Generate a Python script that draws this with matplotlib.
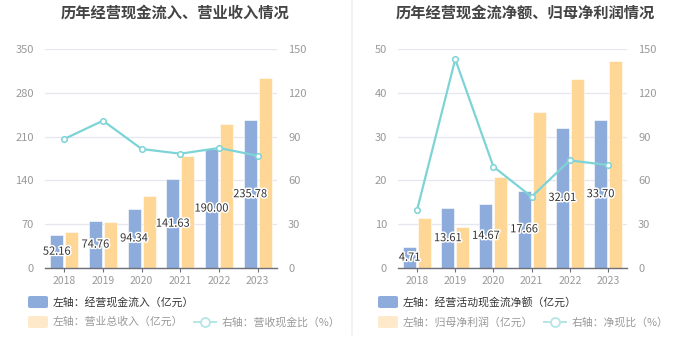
import matplotlib
matplotlib.use("Agg")
import matplotlib.pyplot as plt
import matplotlib.patheffects as pe
from matplotlib.patches import FancyBboxPatch
from matplotlib.lines import Line2D
import numpy as np

plt.rcParams['font.family'] = ['Noto Sans CJK SC', 'DejaVu Sans']

years = ['2018', '2019', '2020', '2021', '2022', '2023']

# Left chart
cash_inflow = [52.16, 74.76, 94.34, 141.63, 190.00, 235.78]
revenue = [58.3, 73.9, 114.5, 178.7, 229.6, 304.0]
cash_rev_ratio = [88.4, 100.9, 81.5, 78.3, 82.2, 76.9]

# Right chart
op_net_cash = [4.71, 13.61, 14.67, 17.66, 32.01, 33.70]
net_profit = [11.5, 9.4, 20.8, 35.7, 43.2, 47.3]
net_cash_ratio = [39.7, 143.0, 69.4, 48.8, 73.7, 70.5]

titles = ['历年经营现金流入、营业收入情况', '历年经营现金流净额、归母净利润情况']
legend_row1 = ['左轴：经营现金流入（亿元）', '左轴：经营活动现金流净额（亿元）']
legend_bar2 = ['左轴：营业总收入（亿元）', '左轴：归母净利润（亿元）']
legend_line = ['右轴：营收现金比（%）', '右轴：净现比（%）']

BLUE = '#8eacdb'
ORANGE = '#fed797'
TEAL = '#7dd4d6'
GRID = '#e4e7f0'
TICK = '#999999'

W, H = 700, 360
fig = plt.figure(figsize=(7, 3.6), dpi=100)

def fx(px):
    return px / W

def fy(py):
    return 1 - py / H

panels = [
    dict(ax=(45, 277), left=cash_inflow, bar2=revenue, line=cash_rev_ratio,
         lmax=350, lstep=70, rmax=150, rstep=30, x0=0),
    dict(ax=(398, 627), left=op_net_cash, bar2=net_profit, line=net_cash_ratio,
         lmax=50, lstep=10, rmax=150, rstep=30, x0=350),
]

x = np.arange(len(years))
bw = 0.34
off = 0.195
for i, p in enumerate(panels):
    x1, x2 = p['ax']
    ax = fig.add_axes([fx(x1), fy(268), fx(x2 - x1), fy(49) - fy(268)])
    ax.set_xlim(-0.5, len(years) - 0.5)
    ax.set_ylim(0, p['lmax'])
    ax.set_yticks(np.arange(0, p['lmax'] + 1, p['lstep']))
    ax.grid(axis='y', color=GRID, linewidth=0.9)
    ax.set_axisbelow(True)
    for s in ['top', 'right', 'left']:
        ax.spines[s].set_visible(False)
    ax.spines['bottom'].set_color('#6e7079')
    ax.spines['bottom'].set_linewidth(1.0)
    ax.bar(x - off, p['left'], width=bw, color=BLUE, edgecolor='white', linewidth=0.4, zorder=2)
    ax.bar(x + off, p['bar2'], width=bw, color=ORANGE, edgecolor='white', linewidth=0.4, zorder=2)
    for xi, v in zip(x, p['left']):
        ax.text(xi - off, v / 2, f'{v:.2f}', ha='center', va='center', fontsize=8,
                color='#333333', zorder=5,
                path_effects=[pe.withStroke(linewidth=2.2, foreground='white')])
    ax.set_xticks(x)
    ax.set_xticklabels(years)
    ax.tick_params(axis='x', colors='#6e7079', labelcolor=TICK, labelsize=7.5, length=3, pad=3)
    ax.tick_params(axis='y', length=0, labelcolor=TICK, labelsize=8, pad=8)

    ax2 = ax.twinx()
    ax2.set_ylim(0, p['rmax'])
    ax2.set_yticks(np.arange(0, p['rmax'] + 1, p['rstep']))
    for s in ['top', 'right', 'left', 'bottom']:
        ax2.spines[s].set_visible(False)
    ax2.tick_params(axis='y', length=0, labelcolor=TICK, labelsize=8, pad=8)
    ax2.plot(x, p['line'], color=TEAL, linewidth=1.6, marker='o', markersize=4,
             markerfacecolor='white', markeredgecolor=TEAL, markeredgewidth=1.1, zorder=4)

    cx = p['x0'] + 175
    fig.text(fx(cx), fy(13), titles[i], ha='center', va='center', fontsize=11,
             fontweight='bold', color='#444444')

    # legend
    lx = p['x0'] + 28
    fig.patches.append(FancyBboxPatch((fx(lx), fy(308)), fx(20), fy(296) - fy(308),
                                      boxstyle='round,pad=0,rounding_size=0.004',
                                      transform=fig.transFigure, facecolor=BLUE,
                                      edgecolor='none'))
    fig.text(fx(lx + 25), fy(302), legend_row1[i], ha='left', va='center',
             fontsize=7.8, color='#333333')
    fig.patches.append(FancyBboxPatch((fx(lx), fy(328)), fx(20), fy(316) - fy(328),
                                      boxstyle='round,pad=0,rounding_size=0.004',
                                      transform=fig.transFigure, facecolor='#feeacb',
                                      edgecolor='none'))
    t = fig.text(fx(lx + 25), fy(322), legend_bar2[i], ha='left', va='center',
                 fontsize=7.8, color='#999999')
    fig.canvas.draw()
    bb = t.get_window_extent()
    sx = bb.x1 + 10
    fig.lines.append(Line2D([sx / W, (sx + 22) / W], [fy(322), fy(322)],
                            transform=fig.transFigure, color='#b5e6e7', linewidth=1.4))
    fig.lines.append(Line2D([(sx + 11) / W], [fy(322)], transform=fig.transFigure,
                            marker='o', markersize=6.5, markerfacecolor='white',
                            markeredgecolor='#b5e6e7', markeredgewidth=1.3))
    fig.text((sx + 28) / W, fy(322), legend_line[i], ha='left', va='center',
             fontsize=7.8, color='#999999')

fig.lines.append(Line2D([fx(351.5), fx(351.5)], [fy(0), fy(335)], transform=fig.transFigure,
                        color='#f0f0f0', linewidth=1.2))

fig.savefig('out.png', dpi=100, facecolor='white')
